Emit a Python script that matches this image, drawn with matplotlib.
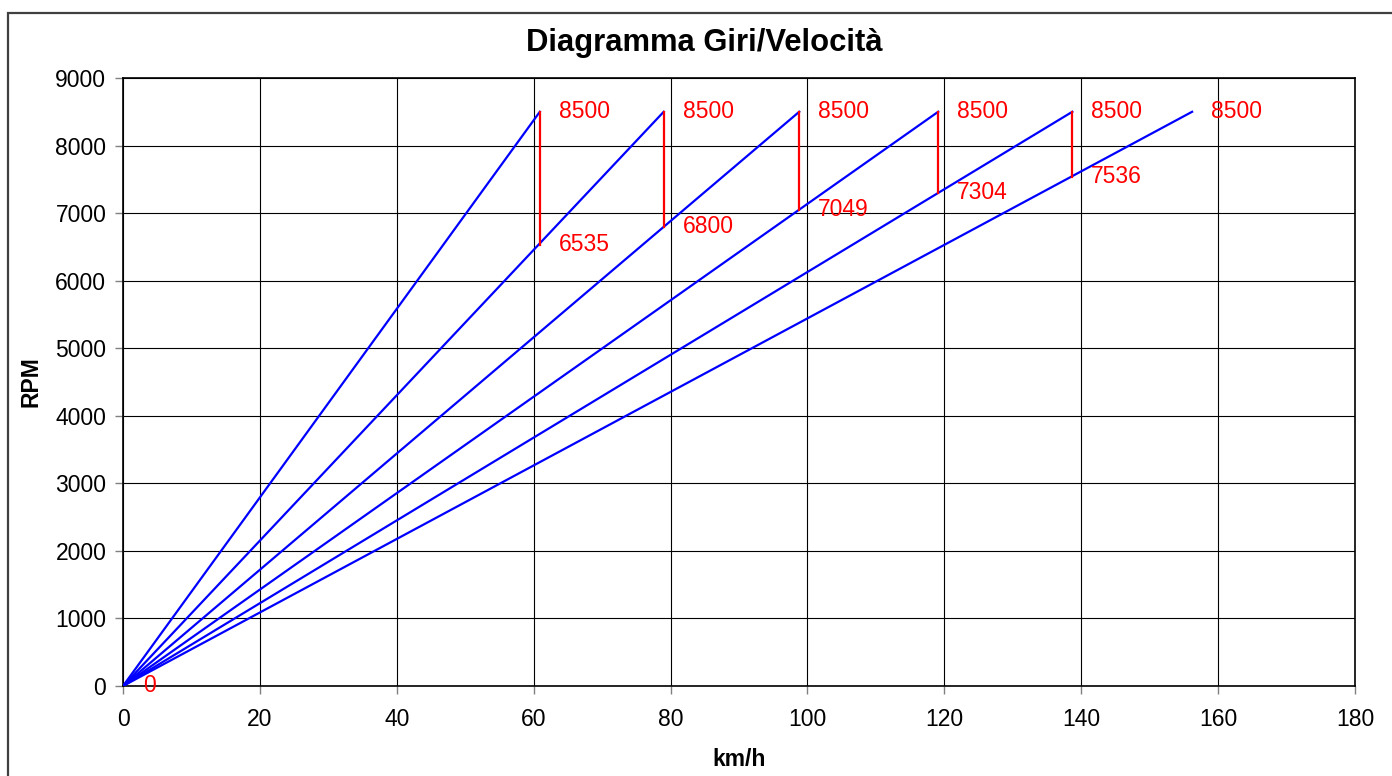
import matplotlib
matplotlib.use("Agg")
import matplotlib.pyplot as plt
from matplotlib.patches import Rectangle

# top speed (km/h) reached in each gear at the rev limit
gear_top_speed = [60.9, 79.0, 98.8, 119.1, 138.7, 156.2]
rev_limit = 8500
# rpm after shifting up into the next gear at the previous gear's top speed
shift_rpm = [6535, 6800, 7049, 7304, 7536]

x_ticks = [0, 20, 40, 60, 80, 100, 120, 140, 160, 180]
y_ticks = [0, 1000, 2000, 3000, 4000, 5000, 6000, 7000, 8000, 9000]

plt.rcParams["font.family"] = ["Liberation Sans", "DejaVu Sans"]

fig = plt.figure(figsize=(13.92, 7.76), dpi=100)
ax = fig.add_axes([123 / 1392, 90 / 776, 1232 / 1392, 608 / 776])

# outer chart border
fig.patches.append(Rectangle((8 / 1392, -0.01), 1.02 - 8 / 1392, 1 - 13 / 776 + 0.01,
                             transform=fig.transFigure, fill=False,
                             edgecolor="#404040", linewidth=1.6))

for v in gear_top_speed:
    ax.plot([0, v], [0, rev_limit], color="#0000ff", linewidth=1.6, zorder=3)
    ax.annotate(str(rev_limit), (v, rev_limit), xytext=(19, 0),
                textcoords="offset pixels", color="#ff0000", fontsize=16.5,
                va="center", ha="left", zorder=4)

for v, r in zip(gear_top_speed[:-1], shift_rpm):
    ax.plot([v, v], [r, rev_limit], color="#ff0000", linewidth=1.6, zorder=3)
    ax.annotate(str(r), (v, r), xytext=(19, 0),
                textcoords="offset pixels", color="#ff0000", fontsize=16.5,
                va="center", ha="left", zorder=4)

ax.annotate("0", (0, 0), xytext=(20, 0), textcoords="offset pixels",
            color="#ff0000", fontsize=16.5, va="center", ha="left", zorder=4)

ax.set_xlim(0, 180)
ax.set_ylim(0, 9000)
ax.set_xticks(x_ticks)
ax.set_yticks(y_ticks)
ax.tick_params(axis="both", direction="out", length=6, width=1, color="#808080",
               labelsize=16.5, pad=6)
ax.tick_params(axis="x", pad=10)
ax.grid(True, color="black", linewidth=0.8)
ax.set_axisbelow(True)
for s in ax.spines.values():
    s.set_linewidth(1.2)
    s.set_color("black")

ax.set_xlabel("km/h", fontsize=16.5, fontweight="bold", labelpad=12)
ax.set_ylabel("RPM", fontsize=16.5, fontweight="bold", labelpad=9)
fig.text(704 / 1392, 1 - 43 / 776, "Diagramma Giri/Velocità", fontsize=22.3,
         fontweight="bold", ha="center", va="center")

fig.savefig("out.png", dpi=100)
